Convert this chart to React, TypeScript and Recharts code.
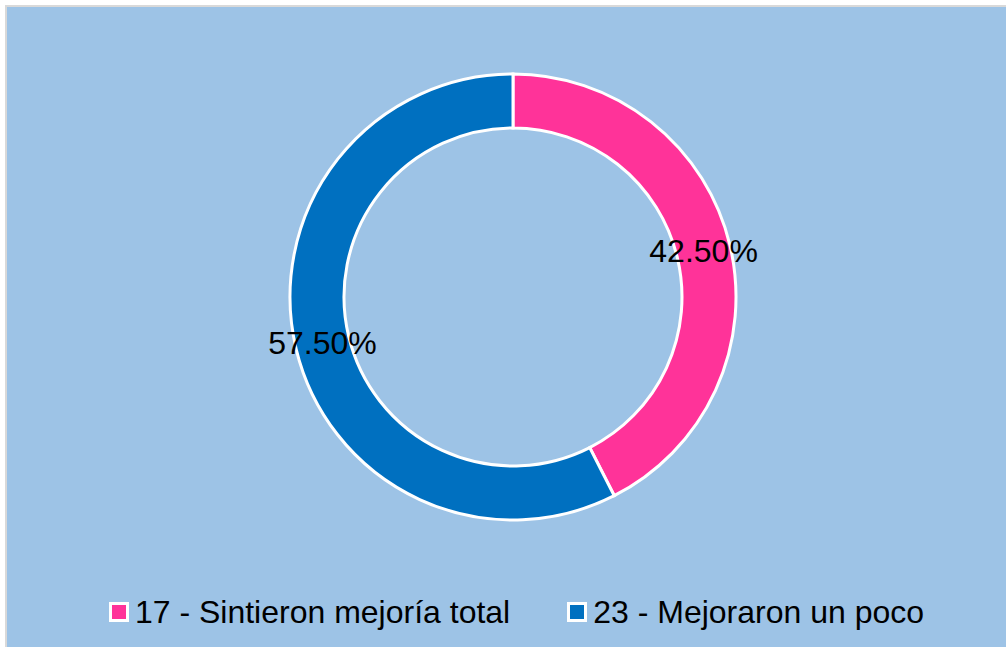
import React from "react";
import { PieChart, Pie, Cell, Legend } from "recharts";

const categories = ["17 - Sintieron mejoría total", "23 - Mejoraron un poco"];
const counts = [17, 23];
const colors = ["#FF3399", "#0070C0"];

const data = categories.map((name, i) => ({ name, value: counts[i] }));

const FONT = '"Liberation Sans", Arial, sans-serif';
const RAD = Math.PI / 180;

const renderLabel = (props: any) => {
  const { cx, cy, midAngle, innerRadius, outerRadius, percent } = props;
  const r = (innerRadius + outerRadius) / 2;
  const x = cx + r * Math.cos(-midAngle * RAD);
  const y = cy + r * Math.sin(-midAngle * RAD);
  return (
    <text
      x={x}
      y={y}
      fill="#000"
      textAnchor="middle"
      dominantBaseline="central"
      fontSize={32}
      fontFamily={FONT}
    >
      {(percent * 100).toFixed(2)}%
    </text>
  );
};

const renderLegend = () => (
  <div
    style={{
      display: "flex",
      justifyContent: "center",
      gap: 57,
      paddingLeft: 20,
      fontFamily: FONT,
      fontSize: 32,
      color: "#000",
      lineHeight: "36px",
    }}
  >
    {categories.map((c, i) => (
      <div key={c} style={{ display: "flex", alignItems: "center" }}>
        <span
          style={{
            display: "inline-block",
            width: 14,
            height: 14,
            background: colors[i],
            border: "3px solid #fff",
            marginRight: 6,
          }}
        />
        <span>{c}</span>
      </div>
    ))}
  </div>
);

export default function App() {
  return (
    <div
      style={{
        position: "absolute",
        left: 5,
        top: 5,
        width: 999,
        height: 640,
        borderLeft: "2px solid #D9D9D9",
        borderTop: "2px solid #D9D9D9",
        background: "#9DC3E6",
      }}
    >
      <PieChart
        width={999}
        height={640}
        margin={{ top: 0, right: 0, bottom: 0, left: 0 }}
      >
        <Pie
          data={data}
          dataKey="value"
          nameKey="name"
          cx={506}
          cy={290}
          innerRadius={169}
          outerRadius={223}
          startAngle={90}
          endAngle={-270}
          stroke="#FFFFFF"
          strokeWidth={3}
          label={renderLabel}
          labelLine={false}
          isAnimationActive={false}
        >
          {data.map((d, i) => (
            <Cell key={d.name} fill={colors[i]} />
          ))}
        </Pie>
        <Legend
          content={renderLegend}
          wrapperStyle={{ left: 0, top: 587, width: 999 }}
        />
      </PieChart>
    </div>
  );
}
